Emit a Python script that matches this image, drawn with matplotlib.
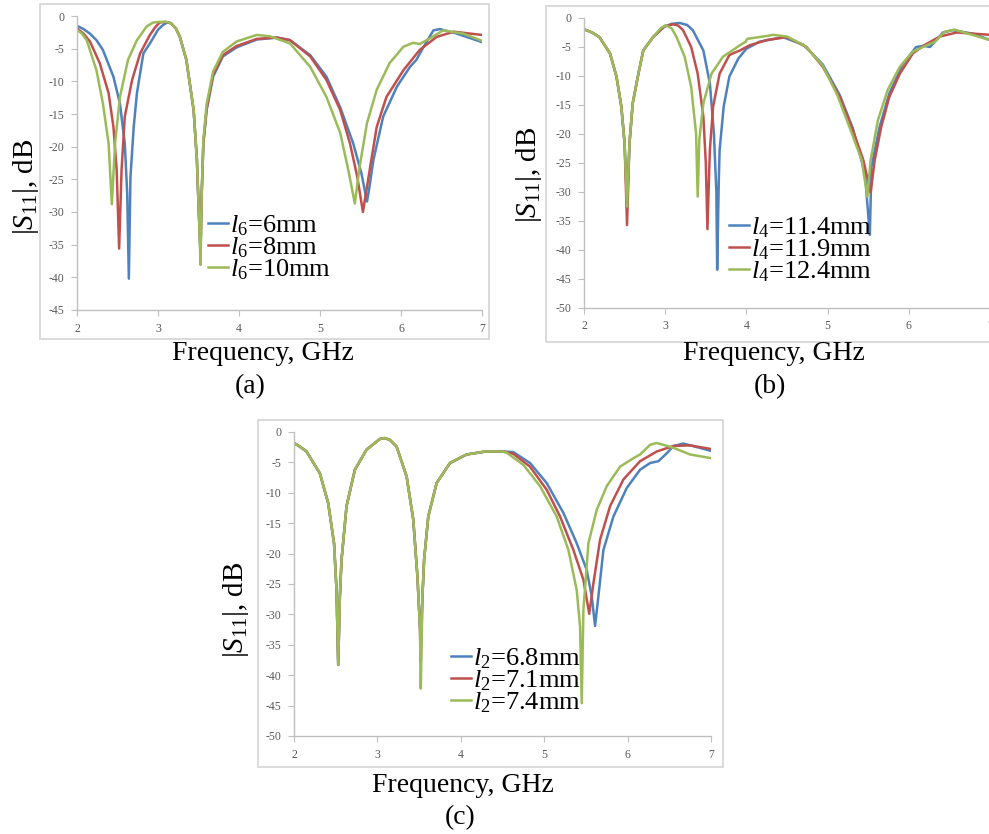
import matplotlib
matplotlib.use("Agg")
import matplotlib.pyplot as plt
from matplotlib.patches import Rectangle

plt.rcParams['font.family'] = ['Liberation Serif', 'DejaVu Serif']
plt.rcParams['mathtext.fontset'] = 'custom'
plt.rcParams['mathtext.rm'] = 'Liberation Serif'
plt.rcParams['mathtext.it'] = 'Liberation Serif:italic'
plt.rcParams['axes.unicode_minus'] = False

W, H = 989, 834

# (a) sweep of l6
f_a6 = [2.00, 2.08, 2.16, 2.24, 2.32, 2.45, 2.53, 2.59, 2.62, 2.64, 2.66, 2.70, 2.74, 2.80, 2.82, 2.90, 3.00, 3.06,
        3.11, 3.16, 3.22, 3.27, 3.35, 3.44, 3.48, 3.51, 3.525, 3.54, 3.56, 3.60, 3.68, 3.80, 3.97, 4.22, 4.47,
        4.63, 4.88, 5.08, 5.25, 5.41, 5.51, 5.58, 5.60, 5.66, 5.78, 5.95, 6.11, 6.19, 6.28, 6.40, 6.48, 6.69, 7.00]
s_a6 = [-1.5, -2.0, -2.7, -3.7, -5.2, -9.3, -13.4, -19.5, -27.2, -40.2, -24.6, -17.0, -11.8, -7.2, -5.7, -4.2, -2.1,
        -1.4, -1.0, -1.1, -1.9, -3.2, -6.7, -14.4, -22.0, -32.0, -36.5, -27.0, -19.5, -14.4, -9.3, -6.2, -4.8, -3.6,
        -3.3, -3.7, -6.0, -9.3, -14.0, -19.5, -24.0, -28.4, -27.0, -22.0, -15.4, -10.8, -7.8, -6.7, -4.7, -2.2,
        -2.0, -2.7, -4.0]

f_a8 = [2.00, 2.08, 2.16, 2.28, 2.39, 2.45, 2.49, 2.52, 2.55, 2.59, 2.68, 2.78, 2.90, 2.96, 3.02, 3.09, 3.16,
        3.22, 3.27, 3.35, 3.44, 3.48, 3.51, 3.525, 3.54, 3.56, 3.60, 3.68, 3.80, 3.97, 4.22, 4.47, 4.63, 4.88,
        5.08, 5.25, 5.37, 5.46, 5.53, 5.60, 5.70, 5.82, 6.03, 6.23, 6.44, 6.65, 7.00]
s_a8 = [-1.9, -2.7, -3.9, -7.2, -11.8, -17.0, -23.6, -35.6, -23.6, -15.4, -9.8, -5.7, -2.9, -1.8, -1.0, -0.9,
        -1.1, -1.9, -3.2, -6.7, -14.4, -22.0, -32.0, -36.0, -27.0, -19.5, -14.2, -9.0, -6.0, -4.6, -3.5, -3.3,
        -3.7, -6.2, -9.8, -14.4, -19.5, -24.6, -30.0, -24.6, -17.0, -12.4, -8.3, -5.2, -3.2, -2.4, -2.9]

f_a10 = [2.00, 2.06, 2.12, 2.24, 2.32, 2.39, 2.43, 2.47, 2.53, 2.63, 2.74, 2.86, 2.94, 3.02, 3.10, 3.16, 3.22,
         3.27, 3.35, 3.44, 3.48, 3.51, 3.525, 3.54, 3.56, 3.60, 3.68, 3.80, 3.97, 4.22, 4.38, 4.63, 4.88,
         5.08, 5.25, 5.35, 5.43, 5.49, 5.58, 5.70, 5.86, 6.03, 6.15, 6.23, 6.36, 6.52, 6.77, 7.00]
s_a10 = [-2.1, -2.7, -3.7, -8.3, -13.4, -19.5, -28.8, -19.5, -12.4, -6.7, -3.7, -1.6, -1.0, -0.9, -0.9, -1.1, -1.9,
         -3.2, -6.7, -14.4, -22.0, -32.0, -38.1, -27.0, -19.0, -13.5, -8.5, -5.5, -3.9, -2.9, -3.1, -4.2, -7.8,
         -12.4, -17.9, -23.6, -28.7, -23.0, -16.4, -11.3, -7.2, -4.7, -4.1, -4.3, -3.4, -2.2, -2.7, -3.8]

# (b) sweep of l4
f_b114 = [2.00, 2.10, 2.19, 2.32, 2.40, 2.46, 2.50, 2.53, 2.56, 2.60, 2.67, 2.73, 2.85, 2.99, 3.08, 3.18, 3.27,
          3.34, 3.47, 3.55, 3.60, 3.63, 3.64, 3.66, 3.67, 3.72, 3.79, 3.90, 4.00, 4.16, 4.45, 4.70, 4.94,
          5.15, 5.31, 5.46, 5.52, 5.54, 5.64, 5.76, 5.93, 6.09, 6.18, 6.26, 6.34, 6.42, 6.54, 6.79, 7.00]
s_b114 = [-1.95, -2.5, -3.3, -6.1, -10.1, -15.3, -21.6, -32.5, -21.6, -14.7, -9.6, -5.6, -3.3, -1.5, -1.0, -0.86,
          -1.2, -2.1, -5.6, -11.3, -19.9, -30.0, -43.4, -28.0, -22.8, -15.3, -10.1, -7.0, -5.3, -4.1, -3.3, -4.6,
          -8.0, -13.3, -19.0, -26.8, -37.4, -25.6, -18.8, -13.0, -7.9, -5.0, -4.8, -5.0, -3.8, -2.5, -2.1, -2.7, -3.8]

f_b119 = [2.00, 2.10, 2.19, 2.32, 2.40, 2.46, 2.50, 2.53, 2.56, 2.60, 2.67, 2.73, 2.85, 2.99, 3.10, 3.16, 3.22,
          3.32, 3.40, 3.47, 3.50, 3.52, 3.55, 3.59, 3.67, 3.79, 3.85, 3.92, 4.04, 4.25, 4.50, 4.74, 4.94,
          5.15, 5.31, 5.44, 5.53, 5.58, 5.66, 5.76, 5.89, 6.05, 6.19, 6.38, 6.59, 7.00]
s_b119 = [-1.95, -2.5, -3.3, -6.1, -10.1, -15.3, -21.6, -35.7, -21.6, -14.7, -9.6, -5.6, -3.3, -1.4, -1.1, -1.3,
          -2.1, -5.0, -9.6, -17.0, -25.0, -36.4, -22.8, -15.3, -9.6, -6.4, -6.0, -5.6, -4.7, -3.8, -3.3, -5.0,
          -8.4, -13.6, -19.3, -24.5, -30.1, -24.5, -18.8, -13.6, -9.6, -6.1, -4.7, -3.2, -2.5, -2.9]

f_b124 = [2.00, 2.10, 2.19, 2.32, 2.40, 2.46, 2.50, 2.53, 2.56, 2.60, 2.67, 2.73, 2.85, 2.95, 3.01, 3.08, 3.14,
          3.24, 3.32, 3.38, 3.40, 3.42, 3.47, 3.57, 3.71, 3.92, 3.99, 4.01, 4.25, 4.33, 4.50, 4.72, 4.94,
          5.12, 5.27, 5.42, 5.49, 5.53, 5.62, 5.74, 5.89, 6.05, 6.22, 6.32, 6.44, 6.56, 7.00]
s_b124 = [-1.95, -2.5, -3.3, -6.1, -10.1, -15.3, -21.6, -32.5, -21.6, -14.7, -9.6, -5.6, -3.3, -1.7, -1.26, -1.8,
          -3.3, -6.7, -11.9, -19.9, -30.8, -21.0, -14.7, -9.6, -6.7, -4.7, -4.1, -3.6, -3.1, -2.9, -3.2, -4.8,
          -8.2, -13.3, -18.8, -24.5, -30.8, -24.5, -17.6, -12.4, -8.4, -5.8, -4.7, -4.1, -2.4, -2.0, -3.8]

# (c) sweep of l2 -- first two resonances shared by all three
f_c_low = [2.00, 2.07, 2.15, 2.31, 2.41, 2.48, 2.51, 2.53, 2.55, 2.57, 2.63, 2.73, 2.87, 3.03, 3.09, 3.15, 3.23,
           3.35, 3.43, 3.48, 3.51, 3.52, 3.54, 3.56, 3.61, 3.71, 3.87, 4.07, 4.30, 4.50]
s_c_low = [-1.8, -2.4, -3.2, -6.8, -11.7, -18.3, -26.0, -38.3, -27.0, -21.0, -12.2, -6.2, -2.9, -1.15, -1.0, -1.3,
           -2.4, -7.3, -14.4, -23.8, -32.0, None, -27.0, -21.0, -13.9, -8.4, -5.1, -3.7, -3.2, -3.2]
dip_c2 = [-34.2, -38.0, -42.2]

f_c68 = [4.63, 4.83, 5.03, 5.23, 5.39, 5.51, 5.57, 5.61, 5.65, 5.71, 5.83, 5.99, 6.15, 6.27, 6.37, 6.47,
         6.55, 6.67, 7.00]
s_c68 = [-3.3, -5.1, -8.4, -13.3, -18.3, -22.7, -27.0, -31.9, -27.0, -19.4, -13.9, -9.2, -6.2, -5.1, -4.8, -3.5,
         -2.3, -1.9, -3.1]

f_c71 = [4.63, 4.83, 5.03, 5.19, 5.35, 5.47, 5.54, 5.59, 5.67, 5.79, 5.95, 6.15, 6.35, 6.55, 6.75, 7.00]
s_c71 = [-3.6, -5.7, -9.5, -13.9, -19.4, -24.3, -29.9, -24.9, -17.7, -12.2, -7.8, -4.8, -3.2, -2.3, -2.2, -2.8]

f_c74 = [4.55, 4.75, 4.95, 5.15, 5.29, 5.39, 5.43, 5.45, 5.47, 5.53, 5.63, 5.75, 5.91, 6.07, 6.15, 6.27,
         6.35, 6.55, 6.75, 7.00]
s_c74 = [-3.4, -5.4, -8.9, -13.9, -19.4, -26.0, -32.0, -44.6, -29.3, -18.3, -12.8, -8.9, -5.7, -4.3, -3.7, -2.1,
         -1.8, -2.6, -3.7, -4.3]

colors = ['#4F81BD', '#C0504D', '#9BBB59']
labels_a = [r'$l_6$=6mm', r'$l_6$=8mm', r'$l_6$=10mm']
labels_b = [r'$l_4$=11.4mm', r'$l_4$=11.9mm', r'$l_4$=12.4mm']
labels_c = [r'$l_2$=6.8mm', r'$l_2$=7.1mm', r'$l_2$=7.4mm']

# assemble (c) curves: shared low band + per-length upper band
series_c = []
for dip, fh, sh in zip(dip_c2, [f_c68, f_c71, f_c74], [s_c68, s_c71, s_c74]):
    low = [dip if v is None else v for v in s_c_low]
    fl = [f for f in f_c_low if f < fh[0]]
    series_c.append((fl + fh, low[:len(fl)] + sh))

fig = plt.figure(figsize=(W / 100, H / 100), dpi=100)


def px_axes(left, top, right, bottom):
    return fig.add_axes([left / W, 1 - bottom / H, (right - left) / W, (bottom - top) / H])


def frame(left, top, right, bottom):
    fig.patches.append(Rectangle((left / W, 1 - bottom / H), (right - left) / W, (bottom - top) / H,
                                 transform=fig.transFigure, fill=False, edgecolor='#d4d4d4', lw=1.2))


def style(ax, ymin):
    ax.set_xlim(2, 7)
    ax.set_ylim(ymin, 0)
    ax.set_xticks(range(2, 8))
    ax.set_yticks(range(ymin, 1, 5))
    for s in ['top', 'right']:
        ax.spines[s].set_visible(False)
    for s in ['left', 'bottom']:
        ax.spines[s].set_color('#bfbfbf')
        ax.spines[s].set_linewidth(1.0)
    ax.tick_params(direction='out', length=4, width=0.8, color='#bfbfbf',
                   labelcolor='#595959', labelsize=8.5, pad=5)
    ax.patch.set_alpha(0)


def legend(ax, labels, x, y):
    ax.legend(labels=labels, loc='upper left', bbox_to_anchor=(x / W, 1 - y / H),
              bbox_transform=fig.transFigure, frameon=False, fontsize=19,
              handlelength=0.75, handletextpad=0.1, labelspacing=-0.1,
              borderpad=0, borderaxespad=0)


def put(x, y, s, size=20, **kw):
    fig.text(x / W, 1 - y / H, s, ha='center', va='center', fontsize=size, **kw)


# panel (a)
frame(40, 4, 489, 339)
ax = px_axes(77, 16, 482, 310)
for f, s, c in zip([f_a6, f_a8, f_a10], [s_a6, s_a8, s_a10], colors):
    ax.plot(f, s, color=c, lw=1.8)
style(ax, -45)
legend(ax, labels_a, 208, 213)
put(26, 187, r'$|S_{11}|$, dB', size=21, rotation=90)
put(263, 354, 'Frequency, GHz')
put(250, 387, '(a)')

# panel (b)
frame(546, 6, 1010, 342)
ax = px_axes(584, 18, 990, 308)
for f, s, c in zip([f_b114, f_b119, f_b124], [s_b114, s_b119, s_b124], colors):
    ax.plot(f, s, color=c, lw=1.8)
style(ax, -50)
legend(ax, labels_b, 729, 215)
put(529, 175, r'$|S_{11}|$, dB', size=21, rotation=90)
put(774, 354, 'Frequency, GHz')
put(770, 387, '(b)')

# panel (c)
frame(258, 420, 723, 767)
ax = px_axes(294, 432, 711, 736)
for (f, s), c in zip(series_c, colors):
    ax.plot(f, s, color=c, lw=1.8)
style(ax, -50)
legend(ax, labels_c, 451, 646)
put(236, 610, r'$|S_{11}|$, dB', size=21, rotation=90)
put(463, 785, 'Frequency, GHz')
put(460, 818, '(c)')

fig.savefig('out.png', dpi=100)
